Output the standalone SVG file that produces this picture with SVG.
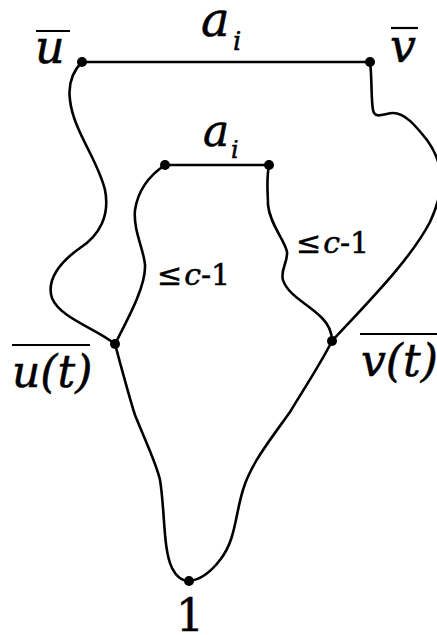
<svg xmlns="http://www.w3.org/2000/svg" width="437" height="635" viewBox="0 0 437 635">
<style>
.e{fill:none;stroke:#000;stroke-width:2.6;stroke-linecap:round;stroke-linejoin:round}
.ov{stroke:#000;stroke-width:2.2}
.dot{fill:#000}
.t{font-family:"DejaVu Serif","Times New Roman","Liberation Serif",serif;fill:#000;stroke:#000;stroke-width:0.5}
.i{font-style:italic}
</style>
<rect width="437" height="635" fill="#fff"/>
<g id="connectors">
<path class="e" d="M82,62 L370,62"/>
<path class="e" d="M165,165 L269,165"/>
<path class="e" d="M82,62 C72,72 68,85 70,100 C73,130 98,160 105,190 C110,215 100,235 80,248 C60,262 46,280 52,298 C60,318 95,328 115,344"/>
<path class="e" d="M165,165 C150,175 138,190 135,210 C133,230 144,250 145,265 C146,285 130,315 115,344"/>
<path class="e" d="M269,165 C266,180 268,195 268,205 C270,225 285,240 287,252 C288,262 280,270 283,280 C288,296 310,305 322,318 C330,326 332,335 332,341"/>
<path class="e" d="M370,62 C372,75 371,100 373,110 C375,120 385,113 393,113 C405,113 415,125 427,140 C445,165 445,190 430,222 C410,260 370,300 332,341"/>
<path class="e" d="M115,344 C122,370 130,400 135,415 C145,440 157,465 160,480 C165,510 163,550 172,568 C177,578 183,581 189,581"/>
<path class="e" d="M332,341 C320,365 300,395 290,412 C270,440 250,465 243,490 C235,515 236,540 220,560 C210,573 200,580 189,581"/>
</g>
<g id="edge-labels">
<text class="t i" x="201" y="36" font-size="48">a</text>
<text class="t i" x="233" y="50" font-size="26">i</text>
<text class="t i" x="203" y="146" font-size="44">a</text>
<text class="t i" x="231" y="158" font-size="24">i</text>
<text class="t" x="157" y="285" font-size="30">≤<tspan class="i" dx="2">c</tspan>-1</text>
<text class="t" x="296" y="253" font-size="30">≤<tspan class="i" dx="2">c</tspan>-1</text>
</g>
<g id="node-u">
<circle class="dot" cx="82" cy="62" r="5"/>
<text class="t i" x="35" y="63" font-size="46">u</text>
<line class="ov" x1="36" y1="31" x2="70" y2="31"/>
</g>
<g id="node-v">
<circle class="dot" cx="370" cy="62" r="5"/>
<text class="t i" x="390" y="62" font-size="46">v</text>
<line class="ov" x1="391" y1="28" x2="418" y2="28"/>
</g>
<g id="node-a1">
<circle class="dot" cx="165" cy="165" r="5"/>
</g>
<g id="node-a2">
<circle class="dot" cx="269" cy="165" r="5"/>
</g>
<g id="node-ut">
<circle class="dot" cx="115" cy="344" r="5"/>
<text class="t i" x="12" y="387" font-size="44">u(t)</text>
<line class="ov" x1="12" y1="345" x2="90" y2="345"/>
</g>
<g id="node-vt">
<circle class="dot" cx="332" cy="341" r="5"/>
<text class="t i" x="361" y="376" font-size="44">v(t)</text>
<line class="ov" x1="360" y1="334" x2="437" y2="334"/>
</g>
<g id="node-1">
<circle class="dot" cx="189" cy="581" r="5"/>
<text class="t" x="190" y="631" font-size="44" text-anchor="middle">1</text>
</g>
</svg>
